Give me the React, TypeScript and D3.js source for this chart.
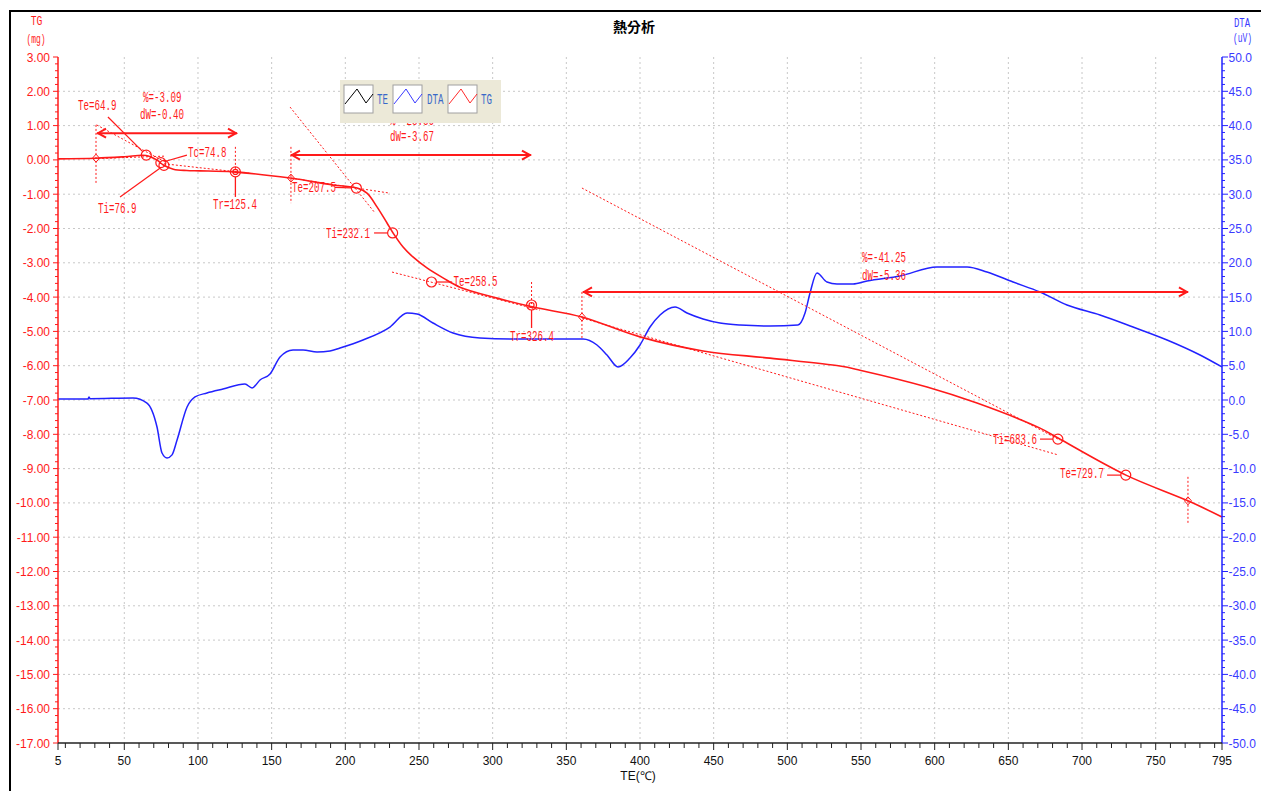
import React from "react";
import * as d3 from "d3";

// ---------- data ----------
const tgTemp = [5, 30.8, 50, 64.7, 72, 76.5, 83.3, 92.3, 101.4, 123.8, 162.5, 191.6, 207.9, 214.7, 221.5, 228.3, 232.4, 239.2, 245.9, 255.4, 266.3, 277.8, 303, 327.4, 360.6, 400, 442.8, 488.2, 535.7, 549.3, 594.8, 628.7, 671.5, 683.7, 729.8, 771.9, 795];
const tgMass = [0.03, 0.05, 0.09, 0.13, 0.0, -0.15, -0.27, -0.31, -0.32, -0.35, -0.53, -0.73, -0.82, -0.97, -1.37, -1.84, -2.13, -2.54, -2.83, -3.15, -3.44, -3.71, -4.03, -4.29, -4.58, -5.16, -5.57, -5.78, -6.01, -6.13, -6.62, -7.09, -7.82, -8.11, -9.19, -9.94, -10.41];

const dtaTemp = [5, 25.4, 26, 26.7, 55.9, 65.4, 72.2, 75.6, 79, 82.4, 85.8, 92.6, 98, 106.1, 117, 131.9, 136.7, 142.1, 148.9, 155.7, 164.5, 171.3, 180.8, 189.6, 196.4, 212, 230.3, 241.9, 248.7, 259.5, 273.1, 291.4, 313.8, 336.9, 361.3, 370.8, 377.6, 385.1, 393.2, 400, 406.8, 413.6, 423.8, 431.9, 442.8, 454.3, 467.9, 488.2, 507.2, 512, 515.4, 520.1, 526.9, 533.7, 544.6, 554.1, 576.5, 601.6, 622, 635.5, 653.2, 671.5, 689.8, 712.2, 734.6, 757.7, 780.1, 795];
const dtaUv = [0.15, 0.15, 0.44, 0.2, 0.3, -0.44, -3.94, -7.73, -8.45, -8.0, -5.83, -1.02, 0.44, 1.02, 1.6, 2.33, 1.75, 2.92, 3.79, 6.27, 7.29, 7.29, 7.0, 7.14, 7.58, 8.75, 10.64, 12.68, 12.54, 11.22, 9.77, 9.04, 8.89, 8.89, 8.89, 8.02, 6.56, 4.81, 6.12, 8.02, 10.64, 12.39, 13.56, 12.68, 11.81, 11.22, 10.93, 10.79, 10.93, 12.68, 15.6, 18.51, 17.2, 16.91, 16.91, 17.35, 18.08, 19.39, 19.39, 18.66, 17.2, 15.74, 13.85, 12.39, 10.64, 8.75, 6.56, 4.81];

const xMajorTicks = [5, 50, 100, 150, 200, 250, 300, 350, 400, 450, 500, 550, 600, 650, 700, 750, 795];
const tgTicks = d3.range(-17, 3.001, 1);
const dtaTicks = d3.range(-50, 50.001, 5);
const legendItems = [
  { name: "TE", color: "#000000" },
  { name: "DTA", color: "#3a3aff" },
  { name: "TG", color: "#ff2a2a" },
];

// annotations (temperature, mass in mg)
const stepArrows = [
  { t1: 31.5, t2: 126.5, m: 0.78 },
  { t1: 163.1, t2: 326.0, m: 0.14 },
  { t1: 361.3, t2: 771.9, m: -3.85 },
];
const dashedVerticals = [
  { t: 30.8, m1: 1.02, m2: -0.67 },
  { t: 125.4, m1: 0.38, m2: -0.35 },
  { t: 163.1, m1: 0.38, m2: -1.26 },
  { t: 326.4, m1: -3.56, m2: -4.23 },
  { t: 360.6, m1: -3.85, m2: -5.25 },
  { t: 771.9, m1: -9.24, m2: -10.64 },
];
const solidVerticals = [
  { t: 125.4, m1: -0.35, m2: -1.08 },
  { t: 326.4, m1: -4.23, m2: -4.9 },
];
const diamonds = [
  { t: 30.8, m: 0.05 },
  { t: 163.1, m: -0.53 },
  { t: 360.6, m: -4.58 },
  { t: 771.9, m: -9.94 },
];
const rings = [
  { t: 64.9, m: 0.14, inner: false },
  { t: 74.8, m: -0.08, inner: false },
  { t: 76.9, m: -0.16, inner: false },
  { t: 125.4, m: -0.35, inner: true },
  { t: 207.5, m: -0.82, inner: false },
  { t: 232.1, m: -2.13, inner: false },
  { t: 258.5, m: -3.56, inner: false },
  { t: 326.4, m: -4.23, inner: true },
  { t: 683.6, m: -8.14, inner: false },
  { t: 729.7, m: -9.19, inner: false },
];
const leaders = [
  { t1: 38.9, m1: 1.25, t2: 64.9, m2: 0.14 },
  { t1: 92.5, m1: 0.14, t2: 74.8, m2: -0.08 },
  { t1: 47.1, m1: -1.08, t2: 76.9, m2: -0.16 },
  { t1: 193, m1: -0.8, t2: 207.5, m2: -0.82 },
  { t1: 219.5, m1: -2.13, t2: 232.1, m2: -2.13 },
  { t1: 272.5, m1: -3.56, t2: 258.5, m2: -3.56 },
  { t1: 671.5, m1: -8.14, t2: 683.6, m2: -8.14 },
  { t1: 717, m1: -9.19, t2: 729.7, m2: -9.19 },
];
const tangents = [
  { t1: 31.2, m1: 1.02, t2: 77.6, m2: -0.06 },
  { t1: 32.2, m1: 0.04, t2: 77.6, m2: 0.11 },
  { t1: 74.2, m1: -0.1, t2: 135.3, m2: -0.39 },
  { t1: 162.5, m1: 1.54, t2: 220.2, m2: -1.55 },
  { t1: 163.1, m1: -0.53, t2: 230.3, m2: -0.97 },
  { t1: 231.7, m1: -3.27, t2: 332.1, m2: -4.38 },
  { t1: 360.6, m1: -0.82, t2: 685, m2: -8.17 },
  { t1: 360.6, m1: -4.61, t2: 683.7, m2: -8.6 },
];
const annLabels = [
  { s: "Te=64.9", t: 18.6, m: 1.46 },
  { s: "%=-3.09", t: 62.7, m: 1.69 },
  { s: "dW=-0.40", t: 60.7, m: 1.19 },
  { s: "Tc=74.8", t: 93.2, m: 0.09 },
  { s: "Ti=76.9", t: 32.1, m: -1.54 },
  { s: "Tr=125.4", t: 110.2, m: -1.42 },
  { s: "Te=207.5", t: 163.8, m: -0.93 },
  { s: "Ti=232.1", t: 186.9, m: -2.27 },
  { s: "Te=258.5", t: 273.5, m: -3.68 },
  { s: "Tr=326.4", t: 311.8, m: -5.27 },
  { s: "%=-28.36", t: 230.3, m: 1.03 },
  { s: "dW=-3.67", t: 230.3, m: 0.56 },
  { s: "%=-41.25", t: 550.7, m: -2.97 },
  { s: "dW=-5.36", t: 550.7, m: -3.49 },
  { s: "Ti=683.6", t: 639.6, m: -8.27 },
  { s: "Te=729.7", t: 685, m: -9.27 },
];

// ---------- scales ----------
const x = d3.scaleLinear().domain([5, 795]).range([58, 1222]);
const yTG = d3.scaleLinear().domain([-17, 3]).range([743, 57]);
const yDTA = d3.scaleLinear().domain([-50, 50]).range([743, 57]);

const RED = "#ff1a1a";
const BLUE = "#2222ff";
const FONT = "'Liberation Mono', 'DejaVu Sans Mono', monospace";
const SANS = "'Liberation Sans', Arial, sans-serif";

function Txt(props: { x: number; y: number; s: string; fill: string; anchor?: string; cw?: number; size?: number; weight?: string }) {
  const cw = props.cw ?? 5.5;
  return (
    <text
      x={props.x}
      y={props.y}
      fill={props.fill}
      fontFamily={FONT}
      fontSize={props.size ?? 14}
      fontWeight={props.weight}
      textAnchor={props.anchor ?? "start"}
      textLength={props.s.length * cw}
      lengthAdjust="spacingAndGlyphs"
    >
      {props.s}
    </text>
  );
}

function Tick(props: { x: number; y: number; s: string; fill: string; anchor?: string }) {
  return (
    <text x={props.x} y={props.y} fill={props.fill} fontFamily={SANS} fontSize={12} textAnchor={props.anchor ?? "start"}>
      {props.s}
    </text>
  );
}

export default function App() {
  const tgLine = d3
    .line<number>()
    .x((_, i) => x(tgTemp[i]))
    .y((d) => yTG(d))
    .curve(d3.curveCatmullRom.alpha(0.5))(tgMass) as string;
  const dtaLine = d3
    .line<number>()
    .x((_, i) => x(dtaTemp[i]))
    .y((d) => yDTA(d))
    .curve(d3.curveMonotoneX)(dtaUv) as string;

  const xMinor = d3.range(10, 795, 10).filter((v) => v % 50 !== 0);
  const tgMinor = d3.range(-17, 3.001, 0.2).filter((v) => Math.abs(v - Math.round(v)) > 0.01);
  const dtaMinor = d3.range(-50, 50.001, 1).filter((v) => Math.round(v) % 5 !== 0);
  const gridX = xMajorTicks.filter((v) => v !== 5 && v !== 795);
  const gridY = tgTicks.filter((v) => v !== 3 && v !== -17);

  const ringR = 5;

  return (
    <svg width={1261} height={791} style={{ position: "absolute", left: 0, top: 0, background: "#fff" }}>
      <rect x={0} y={0} width={1261} height={791} fill="#fff" />
      {/* frame */}
      <path d="M10,791 V11 H1261" fill="none" stroke="#000" strokeWidth={2} />

      {/* title */}
      <text x={634} y={32} textAnchor="middle" fontFamily="'Noto Sans CJK TC', 'Noto Sans CJK SC', sans-serif" fontWeight="bold" fontSize={14} fill="#000">
        熱分析
      </text>

      {/* grid */}
      <g stroke="#c8c8c8" strokeWidth={1} strokeDasharray="2,3">
        {gridX.map((v) => (
          <line key={"gx" + v} x1={x(v)} x2={x(v)} y1={57} y2={743} />
        ))}
        {gridY.map((v) => (
          <line key={"gy" + v} x1={58} x2={1222} y1={yTG(v)} y2={yTG(v)} />
        ))}
      </g>

      {/* DTA curve */}
      <path d={dtaLine} fill="none" stroke={BLUE} strokeWidth={1.5} />

      {/* tangent lines */}
      <g stroke={RED} strokeWidth={1} strokeDasharray="2,2" fill="none">
        {tangents.map((d, i) => (
          <line key={"tg" + i} x1={x(d.t1)} y1={yTG(d.m1)} x2={x(d.t2)} y2={yTG(d.m2)} />
        ))}
        {dashedVerticals.map((d, i) => (
          <line key={"dv" + i} x1={x(d.t)} x2={x(d.t)} y1={yTG(d.m1)} y2={yTG(d.m2)} />
        ))}
      </g>

      {/* TG curve */}
      <path d={tgLine} fill="none" stroke={RED} strokeWidth={1.6} />

      {/* annotation elements */}
      <g stroke={RED} fill="none">
        {solidVerticals.map((d, i) => (
          <line key={"sv" + i} x1={x(d.t)} x2={x(d.t)} y1={yTG(d.m1) + ringR} y2={yTG(d.m2)} strokeWidth={1.3} />
        ))}
        {leaders.map((d, i) => {
          const x1 = x(d.t1), y1 = yTG(d.m1), x2 = x(d.t2), y2 = yTG(d.m2);
          const len = Math.hypot(x2 - x1, y2 - y1);
          const k = (len - ringR) / len;
          return <line key={"ld" + i} x1={x1} y1={y1} x2={x1 + (x2 - x1) * k} y2={y1 + (y2 - y1) * k} strokeWidth={1.2} />;
        })}
        {rings.map((d, i) => (
          <g key={"rg" + i}>
            <circle cx={x(d.t)} cy={yTG(d.m)} r={ringR} strokeWidth={1.2} />
            {d.inner && <circle cx={x(d.t)} cy={yTG(d.m)} r={2.5} strokeWidth={1.2} />}
          </g>
        ))}
        {diamonds.map((d, i) => {
          const cx = x(d.t), cy = yTG(d.m);
          return <path key={"dm" + i} d={`M${cx},${cy - 4}L${cx + 3.5},${cy}L${cx},${cy + 4}L${cx - 3.5},${cy}Z`} strokeWidth={1} />;
        })}
        {stepArrows.map((d, i) => {
          const xa = x(d.t1), xb = x(d.t2), yy = yTG(d.m);
          return (
            <g key={"ar" + i} strokeWidth={2}>
              <line x1={xa} x2={xb} y1={yy} y2={yy} />
              <polyline points={`${xa + 9},${yy - 4.5} ${xa + 1},${yy} ${xa + 9},${yy + 4.5}`} />
              <polyline points={`${xb - 9},${yy - 4.5} ${xb - 1},${yy} ${xb - 9},${yy + 4.5}`} />
            </g>
          );
        })}
      </g>
      {annLabels.map((d, i) => (
        <Txt key={"al" + i} x={x(d.t)} y={yTG(d.m)} s={d.s} fill={RED} />
      ))}

      {/* legend */}
      <g>
        <rect x={340} y={80} width={161} height={43} fill="#ece9d8" />
        {legendItems.map((it, i) => {
          const bx = [344, 393, 448][i];
          const tx = [377, 427, 481][i];
          return (
            <g key={it.name}>
              <rect x={bx} y={85} width={29} height={28} fill="#fff" stroke="#a0a0a0" strokeWidth={1} />
              <polyline
                points={`${bx + 1},${85 + 19} ${bx + 13},${85 + 4} ${bx + 22},${85 + 18} ${bx + 29},${85 + 9}`}
                fill="none"
                stroke={it.color}
                strokeWidth={1}
              />
              <Txt x={tx} y={104} s={it.name} fill="#3868c8" />
            </g>
          );
        })}
      </g>

      {/* left axis (TG) */}
      <g>
        <line x1={58} x2={58} y1={57} y2={743} stroke={RED} strokeWidth={1.5} />
        {tgMinor.map((v, i) => (
          <line key={"lm" + i} x1={55} x2={58} y1={yTG(v)} y2={yTG(v)} stroke={RED} strokeWidth={1} />
        ))}
        {tgTicks.map((v) => (
          <g key={"lt" + v}>
            <line x1={53} x2={58} y1={yTG(v)} y2={yTG(v)} stroke={RED} strokeWidth={1} />
            <Tick x={50} y={yTG(v) + 4.5} s={v.toFixed(2)} fill={RED} anchor="end" />
          </g>
        ))}
        <Txt x={36.5} y={25} s="TG" fill={RED} anchor="middle" size={12} cw={5.8} />
        <Txt x={36} y={43} s="(mg)" fill={RED} anchor="middle" size={12} cw={4.8} />
      </g>

      {/* right axis (DTA) */}
      <g>
        <line x1={1222} x2={1222} y1={57} y2={743} stroke={BLUE} strokeWidth={1.5} />
        {dtaMinor.map((v, i) => (
          <line key={"rm" + i} x1={1222} x2={1225} y1={yDTA(v)} y2={yDTA(v)} stroke={BLUE} strokeWidth={1} />
        ))}
        {dtaTicks.map((v) => (
          <g key={"rt" + v}>
            <line x1={1222} x2={1228} y1={yDTA(v)} y2={yDTA(v)} stroke={BLUE} strokeWidth={1} />
            <Tick x={1228.5} y={yDTA(v) + 4.5} s={v.toFixed(1)} fill="#3a3aff" />
          </g>
        ))}
        <Txt x={1242} y={27} s="DTA" fill="#3a3aff" anchor="middle" size={12} cw={5.4} />
        <Txt x={1242.5} y={42} s="(uV)" fill="#3a3aff" anchor="middle" size={12} cw={4.8} />
      </g>

      {/* bottom axis */}
      <g>
        <line x1={58} x2={1222} y1={743} y2={743} stroke="#222" strokeWidth={1.5} />
        {xMinor.map((v) => (
          <line key={"bm" + v} x1={x(v)} x2={x(v)} y1={743} y2={748} stroke="#222" strokeWidth={1} />
        ))}
        {xMajorTicks.map((v) => (
          <g key={"bt" + v}>
            <line x1={x(v)} x2={x(v)} y1={743} y2={750} stroke="#222" strokeWidth={1} />
            <Tick x={x(v)} y={765} s={String(v)} fill="#111" anchor="middle" />
          </g>
        ))}
        <text x={638} y={780} textAnchor="middle" fontFamily={SANS} fontSize={12} fill="#111">
          TE(℃)
        </text>
      </g>
    </svg>
  );
}
